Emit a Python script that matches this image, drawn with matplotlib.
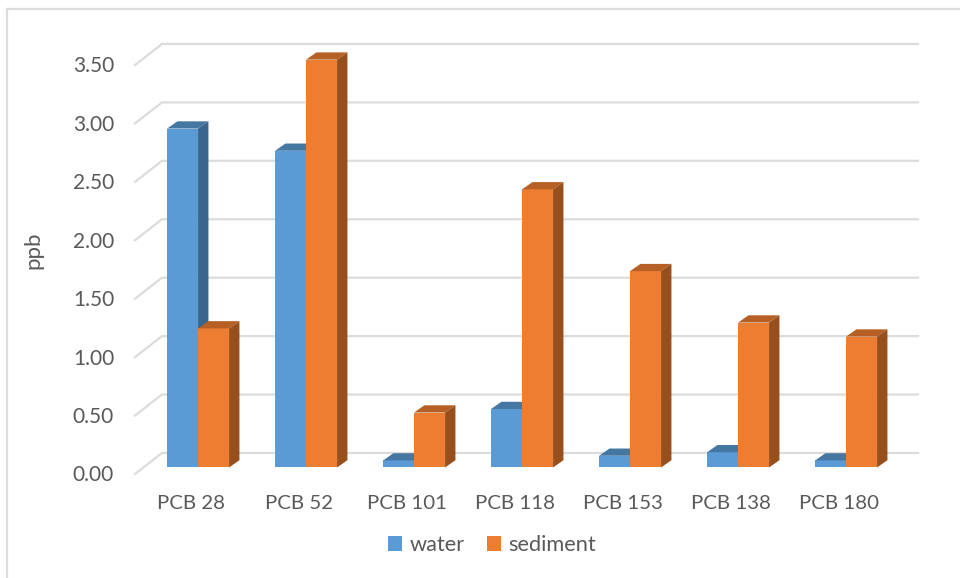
import matplotlib
matplotlib.use("Agg")
import matplotlib.pyplot as plt
from matplotlib.patches import Polygon, Patch
from matplotlib.lines import Line2D

categories = ["PCB 28", "PCB 52", "PCB 101", "PCB 118", "PCB 153", "PCB 138", "PCB 180"]
water = [2.90, 2.71, 0.06, 0.50, 0.10, 0.13, 0.06]
sediment = [1.19, 3.49, 0.47, 2.38, 1.68, 1.24, 1.12]
ticks = [0, 0.5, 1.0, 1.5, 2.0, 2.5, 3.0, 3.5]

plt.rcParams['font.family'] = ['Lato', 'DejaVu Sans']

W, H = 960, 578
text_col = '#595959'
grid_col = '#dcdcdc'

# 3d look: how far the back wall sits from the front, in data units
wall_dx, wall_dy = 0.25, 0.18
bar_w = 0.287
depth_dx, depth_dy = 0.096, 0.062
front_dx, front_dy = 0.084, 0.056


def draw_bar(ax, x, val, front, side, top):
    x0 = x + front_dx
    y0 = front_dy
    x1 = x0 + bar_w
    y1 = val + y0
    z = 3 + x
    ax.add_patch(Polygon([(x0, y0), (x1, y0), (x1, y1), (x0, y1)],
                         fc=front, ec='none', zorder=z, clip_on=False))
    ax.add_patch(Polygon([(x0, y1), (x1, y1), (x1 + depth_dx, y1 + depth_dy), (x0 + depth_dx, y1 + depth_dy)],
                         fc=top, ec='none', zorder=z, clip_on=False))
    ax.add_patch(Polygon([(x1, y0), (x1, y1), (x1 + depth_dx, y1 + depth_dy), (x1 + depth_dx, y0 + depth_dy)],
                         fc=side, ec='none', zorder=z, clip_on=False))


fig = plt.figure(figsize=(W / 100, H / 100), dpi=100)
ax = fig.add_axes([135 / W, 1 - 474 / H, 756 / W, 409 / H])
ax.set_xlim(-0.5, 6.5)
ax.set_ylim(0, 3.5)
ax.axis('off')

# gridlines run along the floor edge then the back wall
for t in ticks:
    ax.plot([-0.5, -0.5 + wall_dx, 6.5 + wall_dx], [t, t + wall_dy, t + wall_dy],
            color=grid_col, lw=1.6, clip_on=False, zorder=1, solid_joinstyle='miter')
    ax.text(-0.694, t - 0.012, f"{t:.2f}", ha='right', va='center', fontsize=15, color=text_col)

for i, name in enumerate(categories):
    draw_bar(ax, i - bar_w, water[i], '#5b9bd5', '#3a658c', '#4577a3')
    draw_bar(ax, i, sediment[i], '#ed7d31', '#97501d', '#b66025')
    ax.text(i + 0.02, -0.25, name, ha='center', va='center', fontsize=14.7, color=text_col)

fig.text(33 / W, 1 - 250 / H, "ppb", rotation=90, ha='center', va='center',
         fontsize=16, color=text_col)

fig.legend(handles=[Patch(fc='#5b9bd5', label='water'), Patch(fc='#ed7d31', label='sediment')],
           loc='center', bbox_to_anchor=(492 / W, 1 - 545 / H), ncol=2, frameon=False,
           fontsize=15.7, labelcolor=text_col, handlelength=0.64, handleheight=0.64,
           handletextpad=0.35, columnspacing=1.0)

# chart frame, only part of it is visible in the screenshot
fig.add_artist(Line2D([7 / W, 7 / W], [0, 1 - 9 / H], color=grid_col, lw=1.6))
fig.add_artist(Line2D([7 / W, 1], [1 - 9 / H, 1 - 9 / H], color=grid_col, lw=1.6))

fig.savefig('out.png', dpi=100)
